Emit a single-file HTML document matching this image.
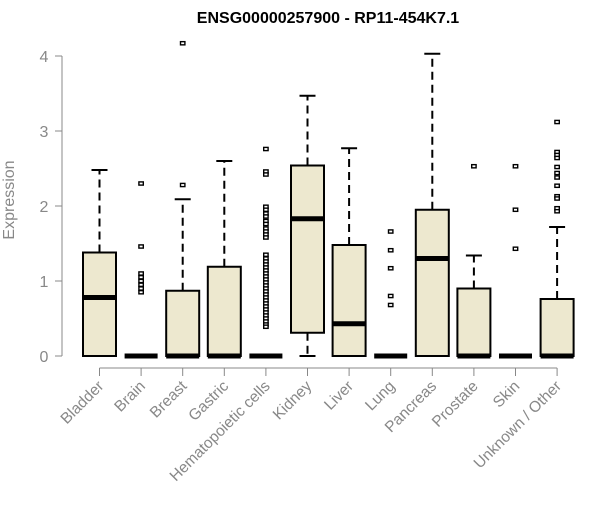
<!DOCTYPE html>
<html><head><meta charset="utf-8"><style>
body{margin:0;background:#fff;}
svg text{font-family:"Liberation Sans",Arial,sans-serif;}
</style></head><body>
<svg id="chart" width="600" height="500" viewBox="0 0 600 500" xmlns="http://www.w3.org/2000/svg">
<text x="328" y="23" text-anchor="middle" font-size="16" font-weight="bold" fill="#000">ENSG00000257900 - RP11-454K7.1</text>
<text x="0" y="0" transform="translate(14,200) rotate(-90)" text-anchor="middle" font-size="16" fill="#888">Expression</text>
<g id="axes"></g>
<g id="boxes"></g>
</svg>
<script>
const categories=["Bladder","Brain","Breast","Gastric","Hematopoietic cells","Kidney","Liver","Lung","Pancreas","Prostate","Skin","Unknown / Other"];
const q1=[0,0,0,0,0,0.31,0,0,0,0,0,0];
const medians=[0.78,0,0,0,0,1.83,0.43,0,1.30,0,0,0];
const q3=[1.38,0,0.87,1.19,0,2.54,1.48,0,1.95,0.90,0,0.76];
const whiskerLow=[0,0,0,0,0,0,0,0,0,0,0,0];
const whiskerHigh=[2.48,0,2.09,2.60,0,3.47,2.77,0,4.03,1.34,0,1.72];
const outliers=[
 [],
 [2.30,1.46,1.10,1.05,1.00,0.95,0.90,0.85],
 [2.28,4.17],
 [],
 [2.76,2.46,2.42,1.99,1.95,1.90,1.86,1.80,1.76,1.70,1.66,1.62,1.58,1.35,1.30,1.26,1.22,1.18,1.14,1.10,1.06,1.02,0.98,0.94,0.90,0.86,0.82,0.78,0.74,0.70,0.66,0.62,0.58,0.54,0.50,0.46,0.42,0.39],
 [],
 [],
 [1.66,1.41,1.17,0.80,0.68],
 [],
 [2.53],
 [2.53,1.95,1.43],
 [3.12,2.72,2.68,2.64,2.52,2.44,2.38,2.27,2.13,2.10,1.97,1.93]
];
const yTicks=[0,1,2,3,4];
const NS="http://www.w3.org/2000/svg";
function y(v){return 356-75*v;}
function x(i){return 99.5+41.6*i;}
function mk(tag,attrs,parent){const e=document.createElementNS(NS,tag);for(const k in attrs)e.setAttribute(k,attrs[k]);parent.appendChild(e);return e;}
const axes=document.getElementById('axes');
const boxes=document.getElementById('boxes');
let ya=mk('line',{x1:62,x2:62,y1:y(4),y2:y(0),stroke:'#888','stroke-width':1},axes);


yTicks.forEach(t=>{
 let l=mk('line',{x1:55,x2:62,y1:y(t),y2:y(t),stroke:'#888'},axes);
 
 
 let tx=mk('text',{x:44,y:y(t)+6,'text-anchor':'middle','font-size':16,fill:'#888'},axes);
 tx.textContent=t;
 
 
});
let xa=mk('line',{x1:x(0),x2:x(categories.length-1),y1:368,y2:368,stroke:'#888'},axes);


categories.forEach((c,i)=>{
 let l=mk('line',{x1:x(i),x2:x(i),y1:368,y2:376,stroke:'#888'},axes);
 
 
 let tx=mk('text',{x:0,y:0,transform:`translate(${x(i)+5},${387}) rotate(-45)`,'text-anchor':'end','font-size':15.5,fill:'#888'},axes);
 tx.textContent=c;
 
 
});
categories.forEach((c,i)=>{
 const cx=x(i),hw=16.5;
 const g=mk('g',{},boxes);
 
 
 if(whiskerHigh[i]>q3[i]){
  mk('line',{x1:cx,x2:cx,y1:y(q3[i]),y2:y(whiskerHigh[i]),stroke:'#000','stroke-width':2,'stroke-dasharray':'8,5'},g);
  mk('line',{x1:cx-8,x2:cx+8,y1:y(whiskerHigh[i]),y2:y(whiskerHigh[i]),stroke:'#000','stroke-width':2}, g);
 }
 if(whiskerLow[i]<q1[i]){
  mk('line',{x1:cx,x2:cx,y1:y(q1[i]),y2:y(whiskerLow[i]),stroke:'#000','stroke-width':2,'stroke-dasharray':'8,5'},g);
  mk('line',{x1:cx-8,x2:cx+8,y1:y(whiskerLow[i]),y2:y(whiskerLow[i]),stroke:'#000','stroke-width':2},g);
 }
 mk('rect',{x:cx-hw,y:y(q3[i]),width:hw*2,height:Math.max(0,y(q1[i])-y(q3[i])),fill:'#ede8cf',stroke:'#000','stroke-width':2},g);
 mk('line',{x1:cx-hw,x2:cx+hw,y1:y(medians[i]),y2:y(medians[i]),stroke:'#000','stroke-width':5},g);
 outliers[i].forEach(v=>{
  let p=mk('rect',{x:cx-2.2,y:y(v)-1.6,width:4.4,height:3.2,fill:'#fff',stroke:'#000','stroke-width':1.4},g);
  
  
 });
});
</script>
</body></html>
